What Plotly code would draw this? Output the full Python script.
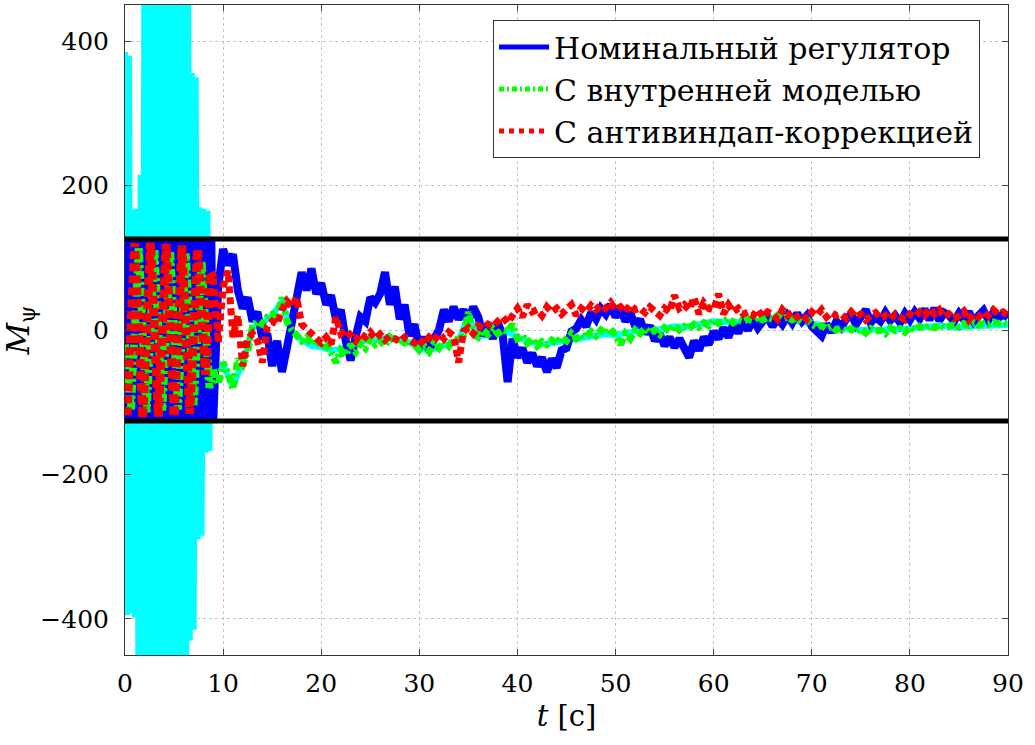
import plotly.graph_objects as go

# ---------------- data ----------------
# fast-oscillation phase, 0.2 s sampling (cyan, blue)
T_FAST = [0.0, 0.2, 0.4, 0.6, 0.8, 1.0, 1.2, 1.4, 1.6, 1.8,
          2.0, 2.2, 2.4, 2.6, 2.8, 3.0, 3.2, 3.4, 3.6, 3.8,
          4.0, 4.2, 4.4, 4.6, 4.8, 5.0, 5.2, 5.4, 5.6, 5.8,
          6.0, 6.2, 6.4, 6.6, 6.8, 7.0, 7.2, 7.4, 7.6, 7.8,
          8.0, 8.2, 8.4, 8.6, 8.8]
# fast-oscillation phase, coarser sampling (green, red)
T_FAST_G = [0.0, 0.6, 1.4, 2.2, 3.0, 3.8, 4.6, 5.4, 6.2, 7.0, 7.8, 8.6]
T_FAST_R = [0.2, 1.0, 1.8, 2.6, 3.4, 4.2, 5.0, 5.8, 6.6, 7.4, 8.2, 8.7]
# slow phase, 0.5 s sampling
T_SLOW = [9.0, 9.5, 10.0, 10.5, 11.0, 11.5, 12.0, 12.5, 13.0, 13.5,
          14.0, 14.5, 15.0, 15.5, 16.0, 16.5, 17.0, 17.5, 18.0, 18.5,
          19.0, 19.5, 20.0, 20.5, 21.0, 21.5, 22.0, 22.5, 23.0, 23.5,
          24.0, 24.5, 25.0, 25.5, 26.0, 26.5, 27.0, 27.5, 28.0, 28.5,
          29.0, 29.5, 30.0, 30.5, 31.0, 31.5, 32.0, 32.5, 33.0, 33.5,
          34.0, 34.5, 35.0, 35.5, 36.0, 36.5, 37.0, 37.5, 38.0, 38.5,
          39.0, 39.5, 40.0, 40.5, 41.0, 41.5, 42.0, 42.5, 43.0, 43.5,
          44.0, 44.5, 45.0, 45.5, 46.0, 46.5, 47.0, 47.5, 48.0, 48.5,
          49.0, 49.5, 50.0, 50.5, 51.0, 51.5, 52.0, 52.5, 53.0, 53.5,
          54.0, 54.5, 55.0, 55.5, 56.0, 56.5, 57.0, 57.5, 58.0, 58.5,
          59.0, 59.5, 60.0, 60.5, 61.0, 61.5, 62.0, 62.5, 63.0, 63.5,
          64.0, 64.5, 65.0, 65.5, 66.0, 66.5, 67.0, 67.5, 68.0, 68.5,
          69.0, 69.5, 70.0, 70.5, 71.0, 71.5, 72.0, 72.5, 73.0, 73.5,
          74.0, 74.5, 75.0, 75.5, 76.0, 76.5, 77.0, 77.5, 78.0, 78.5,
          79.0, 79.5, 80.0, 80.5, 81.0, 81.5, 82.0, 82.5, 83.0, 83.5,
          84.0, 84.5, 85.0, 85.5, 86.0, 86.5, 87.0, 87.5, 88.0, 88.5,
          89.0, 89.5, 90.0]
# cyan slow phase, 1 s sampling
T_CYAN_SLOW = [9, 10, 11, 12, 13, 14, 15, 16, 17, 18, 19, 20, 21, 22, 23, 24, 25,
               26, 27, 28, 29, 30, 31, 32, 33, 34, 35, 36, 37, 38, 39, 40, 41, 42,
               43, 44, 45, 46, 47, 48, 49, 50, 51, 52, 53, 54, 55, 56, 57, 58, 59,
               60, 61, 62, 63, 64, 65, 66, 67, 68, 69, 70, 71, 72, 73, 74, 75, 76,
               77, 78, 79, 80, 81, 82, 83, 84, 85, 86, 87, 88, 89, 90]

CYAN_FAST = [385, -395, 380, -392, 166, -398, 168, -620, 215, -700,
             720, -760, 800, -820, 850, -850, 880, -870, 900, -900,
             900, -900, 880, -880, 860, -860, 820, -820, 780, -780,
             720, -700, 680, -430, 356, -415, 350, -290, 170, -285,
             168, -170, 165, -168, 60]
CYAN_SLOW = [-52, -48, -78, -45, 3, 10, 20, 40, -2, -14, -22, -24, -28, -26, -20, -16, -14,
             -13, -11, -13, -17, -26, -28, -23, -20, -14, 20, -9, -7, -4, -3, -10, -16, -20,
             -19, -17, -14, -11, -9, -7, -6, -7, -4, -1, 1, 0, 2, 5, 4, 7, 9,
             12, 11, 10, 11, 12, 13, 14, 15, 13, 11, 7, 5, 4, 2, 1, 0, 1,
             -1, 2, 1, 3, 4, 5, 6, 4, 3, 5, 6, 7, 8, 7]

BLUE_FAST = [125, -125, 125, -125, 125, -125, 125, -125, 125, -125,
             125, -125, 125, -125, 125, -125, 125, -125, 125, -125,
             125, -125, 125, -125, 125, -125, 125, -125, 125, -125,
             125, -125, 125, -125, 125, -125, 125, -125, 125, -125,
             125, -125, 125, -125, 125]
BLUE_SLOW = [-125, 60, 112, 90, 105, 55, 30, 45, 12, 25,
             -12, -5, -50, -15, -58, -25, 12, 35, 80, 55,
             85, 50, 65, 35, 48, 15, 28, -15, -42, -10,
             18, 12, 45, 38, 50, 80, 35, 60, 15, 35,
             -8, 8, -25, -10, -28, -12, 0, 28, 12, 32,
             15, 28, 12, 32, 18, -8, 8, -12, 10, -8,
             -72, -12, -38, -25, -45, -32, -50, -38, -58, -40,
             -52, -28, -25, -2, 2, 14, 5, 24, 15, 30,
             22, 35, 18, 30, 12, 24, 5, 15, -5, 6,
             -15, -5, -22, -10, -24, -12, -26, -38, -15, -28,
             -10, -20, -2, -12, 3, -10, 8, -4, 10, 0,
             15, 3, 12, 18, 5, 16, 8, 20, 10, 23,
             12, 20, 5, 0, -8, 8, -3, 12, 4, 15,
             22, 8, 16, 28, 10, 18, 12, 24, 13, 20,
             10, 23, 14, 25, 16, 29, 14, 30, 13, 24,
             20, 12, 23, 14, 25, 12, 20, 27, 14, 24,
             16, 22, 17]

GREEN_FAST = [-20, -112, 115, -114, 112, -112, 110, -110, 106, -104, 95, -80]
GREEN_SLOW = [-55, -75, -45, -60, -82, -40, -48, -30, 5, 12,
              8, 18, 22, 15, 45, 12, 0, -8, -15, -10,
              -20, -12, -25, -18, -30, -45, -28, -35, -20, -30,
              -18, -25, -12, -20, -15, -22, -10, -16, -12, -18,
              -15, -20, -28, -22, -30, -18, -25, -15, -22, -12,
              -15, -8, 25, -5, -10, 0, -6, 2, -5, 0,
              -2, 8, -12, -8, -18, -12, -22, -16, -20, -14,
              -18, -10, -15, -5, -12, -6, -10, -2, -8, 0,
              -5, 2, -8, -20, -5, -12, 0, -5, 2, -4,
              0, -6, 3, -2, 6, 0, 5, 2, 8, 4,
              10, 6, 14, 9, 12, 16, 10, 14, 12, 15,
              13, 18, 14, 17, 15, 20, 16, 18, 14, 17,
              12, 15, 8, 4, 6, 2, 5, 0, 3, -2,
              2, -3, 1, -4, 2, -2, 0, -5, 3, -1,
              2, -3, 4, 0, 5, 2, 6, 3, 7, 4,
              5, 8, 4, 9, 6, 10, 7, 9, 8, 11,
              9, 10, 8]

RED_FAST = [-118, 120, -122, 121, -120, 119, -120, 117, -116, 112, -62, 80]
RED_SLOW = [72, -18, 60, 82, -10, 20, -50, -12, -5, -15,
            -45, 5, 12, 8, 28, 40, 32, 45, 8, 2,
            -5, -12, -18, -10, -20, 18, -5, 0, -8, -15,
            -5, -10, -3, -12, -6, -14, -8, -12, -16, -10,
            -14, -18, -12, -20, -10, -15, -5, -12, -3, -8,
            -45, -2, 3, -5, 6, 2, 8, 5, 12, 18,
            10, 22, 30, 18, 35, 25, 28, 20, 32, 25,
            30, 22, 28, 35, 20, 30, 25, 34, 28, 35,
            30, 38, 28, 32, 25, 35, 28, 30, 24, 32,
            26, 20, 30, 25, 48, 30, 35, 28, 45, 22,
            38, 30, 28, 50, 22, 35, 25, 30, 22, 25,
            20, 28, 18, 25, 22, 15, 28, 20, 25, 18,
            22, 15, 25, 20, 28, 18, 24, 20, 22, 16,
            25, 18, 22, 14, 20, 24, 16, 20, 15, 22,
            18, 14, 22, 18, 25, 20, 30, 22, 28, 18,
            22, 16, 20, 26, 14, 22, 18, 25, 20, 28,
            22, 25, 20]

LIMIT_T = [0, 90]
LIMIT_UP = [126, 126]
LIMIT_DN = [-126, -126]

NAMES = ["Номинальный регулятор", "С внутренней моделью", "С антивиндап-коррекцией"]
COLORS = ["#0000FF", "#00FF00", "#FF0000"]

for a, b in [(CYAN_FAST, T_FAST), (BLUE_FAST, T_FAST), (GREEN_FAST, T_FAST_G),
             (RED_FAST, T_FAST_R), (BLUE_SLOW, T_SLOW), (GREEN_SLOW, T_SLOW),
             (RED_SLOW, T_SLOW), (CYAN_SLOW, T_CYAN_SLOW)]:
    assert len(a) == len(b), (len(a), len(b))

FONT = "DejaVu Serif"

fig = go.Figure()
fig.add_trace(go.Scatter(x=T_FAST + T_CYAN_SLOW, y=CYAN_FAST + CYAN_SLOW, mode="lines",
                         line=dict(color="#00FFFF", width=6), showlegend=False, hoverinfo="skip"))
fig.add_trace(go.Scatter(x=T_FAST + T_SLOW, y=BLUE_FAST + BLUE_SLOW, mode="lines",
                         line=dict(color=COLORS[0], width=8), showlegend=False))
# green: fast phase (heavier dashes) and slow phase share the junction sample
fig.add_trace(go.Scatter(x=T_FAST_G + T_SLOW[:1], y=GREEN_FAST + GREEN_SLOW[:1], mode="lines",
                         line=dict(color=COLORS[1], width=8, dash="8px,3px,3px,3px"), showlegend=False))
fig.add_trace(go.Scatter(x=T_SLOW, y=GREEN_SLOW, mode="lines",
                         line=dict(color=COLORS[1], width=7, dash="8px,3px,3px,3px"), showlegend=False))
# red: fast phase (big square dots) and slow phase
fig.add_trace(go.Scatter(x=T_FAST_R + T_SLOW[:1], y=RED_FAST + RED_SLOW[:1], mode="lines",
                         line=dict(color=COLORS[2], width=9, dash="8px,4px"), showlegend=False))
fig.add_trace(go.Scatter(x=T_SLOW, y=RED_SLOW, mode="lines",
                         line=dict(color=COLORS[2], width=7, dash="7px,4px"), showlegend=False))
for ly in (LIMIT_UP, LIMIT_DN):
    fig.add_trace(go.Scatter(x=LIMIT_T, y=ly, mode="lines", line=dict(color="black", width=5),
                             showlegend=False, hoverinfo="skip"))
# legend entries
LEG_DASH = ["solid", "5px,3px,2px,3px", "dot"]
for name, col, dsh in zip(NAMES, COLORS, LEG_DASH):
    fig.add_trace(go.Scatter(x=[None], y=[None], mode="lines", name=name,
                             line=dict(color=col, width=5, dash=dsh)))

axis_common = dict(
    showline=True, linecolor="#333", linewidth=1, mirror="ticks",
    ticks="inside", ticklen=6, tickcolor="#444",
    showgrid=True, gridcolor="#c4c4c4", griddash="dot", gridwidth=1,
    zeroline=False, tickfont=dict(family=FONT, size=25, color="black"),
)
fig.update_xaxes(range=[0, 90], dtick=10, tick0=0, ticklabelstandoff=6,
                 title=dict(text="<i>t</i> [c]", font=dict(family=FONT, size=29, color="black"), standoff=8),
                 **axis_common)
fig.update_yaxes(range=[-450, 450], dtick=200, tick0=0, ticklabelstandoff=10,
                 title=dict(text="<i>M</i><sub>ψ</sub>", font=dict(family=FONT, size=31, color="black"), standoff=2),
                 **axis_common)

fig.update_layout(
    width=1035, height=745,
    margin=dict(l=125, r=27, t=5, b=90),
    paper_bgcolor="white", plot_bgcolor="white",
    legend=dict(x=0.9683, y=0.977, xanchor="right", yanchor="top",
                bgcolor="white", bordercolor="#333", borderwidth=1, itemwidth=50,
                font=dict(family=FONT, size=30, color="black")),
)

fig.write_html("out.html")
